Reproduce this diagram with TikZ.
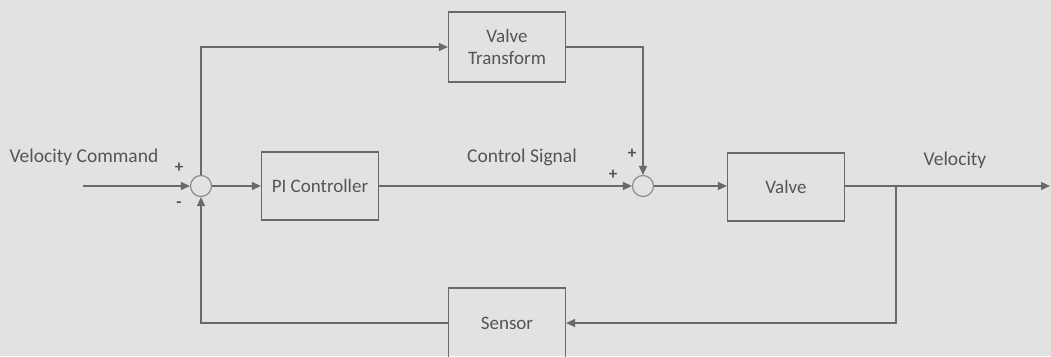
\documentclass[tikz,border=0pt]{standalone}
\usepackage{fontspec}
\setmainfont{Carlito}
\usepackage{tikz}
\usetikzlibrary{arrows.meta,positioning}

\definecolor{paper}{RGB}{226,226,227}
\definecolor{wire}{RGB}{105,105,105}
\definecolor{ink}{RGB}{85,85,85}

\begin{document}
\begin{tikzpicture}[x=1pt,y=-1pt,
    line width=1.2pt,draw=wire,
    blk/.style={draw=wire,rectangle,minimum width=117pt,minimum height=68pt,
      font=\fontsize{19}{22}\selectfont,text=ink,align=center},
    sum/.style={draw=wire!75,circle,minimum size=21pt,inner sep=0pt},
    lbl/.style={font=\fontsize{19.5}{22}\selectfont,text=ink},
    sgn/.style={font=\fontsize{17}{19}\selectfont\bfseries,text=ink},
    >={Triangle[length=9pt,width=8pt]}]
  \useasboundingbox[fill=paper] (0,0) rectangle (1051,356);
  % blocks
  \node[sum] (sumA) at (201,186) {};
  \node[blk] (pi) at (320,186) {PI Controller};
  \node[blk,minimum height=70pt] (vt) at (507,47) {Valve\\Transform};
  \node[sum] (sumB) at (643,186) {};
  \node[blk] (valve) at (786,187) {Valve};
  \node[blk,minimum height=70pt] (sensor) at (507,323) {Sensor};
  \coordinate (in) at (83,186);
  \coordinate (out) at (1050,186);
  \coordinate (tap) at (896,186);
  % signals
  \draw[wire,->] (in) -- (sumA);
  \draw[wire,->] (sumA) -- (pi);
  \draw[wire,->] (pi) -- (sumB);
  \draw[wire,->] (sumB) -- (valve.west |- sumB);
  \draw[wire,->] (valve.east |- tap) -- (out);
  \draw[wire,->] (sumA.north) |- (vt);
  \draw[wire,->] (vt) -| (sumB.north);
  \draw[wire,->] (tap) |- (sensor);
  \draw[wire,->] (sensor) -| (sumA.south);
  % labels
  \node[lbl] (cmd) at (84,157) {Velocity Command};
  \node[lbl] (ctl) at (522,157) {Control Signal};
  \node[lbl] (vel) at (955,160) {Velocity};
  \node[sgn] (pA) at (179,168) {+};
  \node[sgn] (mA) at (179,205) {-};
  \node[sgn] (pB) at (632,154) {+};
  \node[sgn] (qB) at (613,175) {+};
\end{tikzpicture}
\end{document}
